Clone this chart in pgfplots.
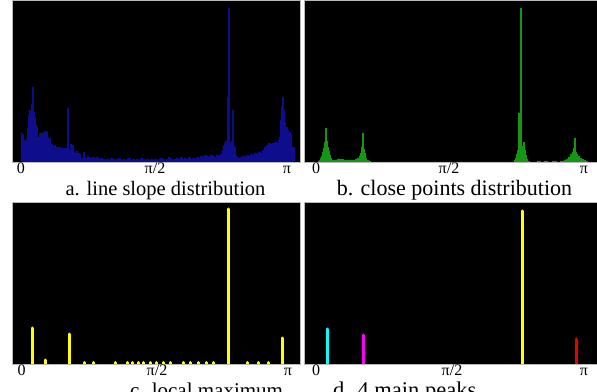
\documentclass[border=0pt]{standalone}
\usepackage{pgfplots}
\pgfplotsset{compat=1.18}
\usepackage{fontspec}
\setmainfont{Liberation Serif}

\definecolor{histblue}{RGB}{14,14,140}
\definecolor{histgreen}{RGB}{22,150,22}
\definecolor{peakred}{RGB}{232,0,0}
\definecolor{pyellow}{RGB}{255,255,0}
\definecolor{pcyan}{RGB}{0,255,255}
\definecolor{pmagenta}{RGB}{255,0,255}

\pgfplotsset{
  panel/.style={
    scale only axis, height=162pt,
    ymin=0, ymax=162,
    axis background/.style={fill=black},
    axis line style={gray!55, line width=0.6pt},
    ytick=\empty, major tick length=0pt, tick style={draw=none},
    xticklabel style={font=\fontsize{16}{16}\selectfont, anchor=base, yshift=-12pt, inner sep=0pt},
    clip=true,
  },
  comb/.style={ycomb, line width=3pt, line cap=round, mark=none},
}

\begin{document}
\begin{tikzpicture}[x=1pt,y=1pt]
\useasboundingbox (0,0) rectangle (597,391);

% a. line slope distribution
\begin{axis}[panel, at={(12pt,229pt)}, anchor=south west, width=288pt,
  xmin=0, xmax=288, xtick={9,143,275}, xticklabels={0,π/2,π}]
\addplot[draw=histblue, line width=0.3pt, fill=histblue, const plot] coordinates {
(9,29)(10,27)(11,22)(12.5,21)(14,23)(15,34)(16,47)(17,52)(18,49)(19,58)(20,75)(21,50)(22,45)(23,37)(24,35)(25,25)(26,24)(27,29)(28,27)(29,29)(30,28)(31,30)(32,29)(33,31)(34,30)(35,25)(36.5,24)(38,17)(39,18)(40.5,16)(42,17)(43.5,15)(45,14)(46.5,15)(48,13)(49.5,14)(51,13)(52.5,14)(54,12)(55.5,54)(56.5,13)(58,18)(59.5,17)(61,10)(62.5,9)(64,11)(65.5,9)(67,8)(68,3)(69.5,4)(71,10)(72,5)(73.5,4)(75,6)(76.5,5)(78,4)(80,5)(82,4)(84,5)(86,3)(88,4)(90,3)(92,2)(94,3)(96,2)(98,4)(100,3)(102,2)(104,3)(106,4)(108,2)(110,3)(112,2)(114,3)(116,4)(118,2)(120,3)(122,2)(124,3)(126,2)(128,4)(130,3)(132,2)(134,3)(136,2)(138,3)(140,2)(142,3)(144,2)(146,3)(148,4)(150,3)(152,2)(154,3)(156,5)(158,3)(160,2)(162,3)(164,4)(166,3)(168,5)(170,3)(172,4)(174,3)(176,5)(178,3)(180,4)(182,3)(184,5)(186,4)(188,6)(190,5)(192,7)(194,6)(196,5)(198,7)(200,6)(202,5)(204,7)(206,6)(208,8)(210,12)(211,17)(212,19)(213,21)(214,19)(215,65)(216,154)(217,20)(218,19)(219,21)(220,52)(221,16)(222,15)(223,7)(224,5)(226,4)(228,5)(230,6)(232,5)(234,7)(236,6)(238,8)(240,7)(242,9)(244,8)(246,10)(248,9)(250,12)(252,15)(254,17)(256,19)(258,18)(260,19)(262,20)(264,19)(266,22)(267.5,25)(268.5,42)(269.5,55)(270.5,65)(271.5,52)(272.5,40)(273.5,35)(275,32)(276.5,30)(278,28)(279.5,15)(281,15)(282,0)
} \closedcycle;
\end{axis}

% b. close points distribution
\begin{axis}[panel, at={(304pt,229pt)}, anchor=south west, width=293pt,
  xmin=0, xmax=293, xtick={12,145,280}, xticklabels={0,π/2,π}]
\addplot[draw=histgreen, line width=0.3pt, fill=histgreen, const plot] coordinates {
(14,1)(15,2)(16,4)(17,6)(18,10)(19,14)(20,20)(21,34)(22,21)(23,15)(24,11)(25,7)(26,4)(27,2)(30,2)(33,3)(36,3)(39,2)(42,2)(46,2)(49,2)(51,3)(53,4)(55,6)(56,9)(57,15)(58,29)(59,13)(60,9)(61,4)(62,2)(64,1)(66,0)(209,0)(210,2)(211,4)(212,8)(213,12)(214,49)(215,20)(216,154)(217,16)(218,15)(219,20)(220,12)(221,7)(222,3)(223,1)(225,0)(233,1)(236,0)(240,1)(243,0)(248,1)(252,0)(256,1)(260,2)(262,3)(264,5)(266,8)(268,10)(269,14)(270,24)(271,10)(272,8)(273,6)(275,4)(277,3)(279,2)(281,1)(283,0)
} \closedcycle;
\end{axis}

% c. local maximum
\begin{axis}[panel, at={(12pt,27pt)}, anchor=south west, width=288pt,
  xmin=0, xmax=288, xtick={9.7,145,276}, xticklabels={0,π/2,π}]
\addplot[comb, pyellow] coordinates {
(20.7,36)(33.7,4)(57.3,30)(216.3,155)(270.7,26)
(72,1.5)(81,1.5)(103,1.5)(115,1.5)(120,1.5)(126,1.5)(131,1.5)(138,1.5)(144,1.5)(151,1.5)(158,1.5)(171,1.5)(178,1.5)(186,1.5)(194,1.5)(201,1.5)(235,1.5)(246,1.5)(256,1.5)
};
\end{axis}

% d. 4 main peaks
\begin{axis}[panel, at={(304pt,27pt)}, anchor=south west, width=293pt,
  xmin=0, xmax=293, xtick={12,148,280}, xticklabels={0,π/2,π}]
\addplot[comb, pcyan] coordinates {(23,35)};
\addplot[comb, pmagenta] coordinates {(59.7,29)};
\addplot[comb, pyellow] coordinates {(218,153)};
\addplot[comb, peakred] coordinates {(272,25)};
\end{axis}

\node[anchor=base, inner sep=0pt, font=\fontsize{20.5}{24}\selectfont] at (165.5,195) {a. line slope distribution};
\node[anchor=base, inner sep=0pt, font=\fontsize{22}{26}\selectfont] at (454.5,195.5) {b. close points distribution};
\node[anchor=base west, inner sep=0pt, font=\fontsize{21}{24}\selectfont] at (130,-6) {c. local maximum};
\node[anchor=base west, inner sep=0pt, font=\fontsize{22.5}{27}\selectfont] at (333,-6) {d. 4 main peaks};
\end{tikzpicture}
\end{document}
